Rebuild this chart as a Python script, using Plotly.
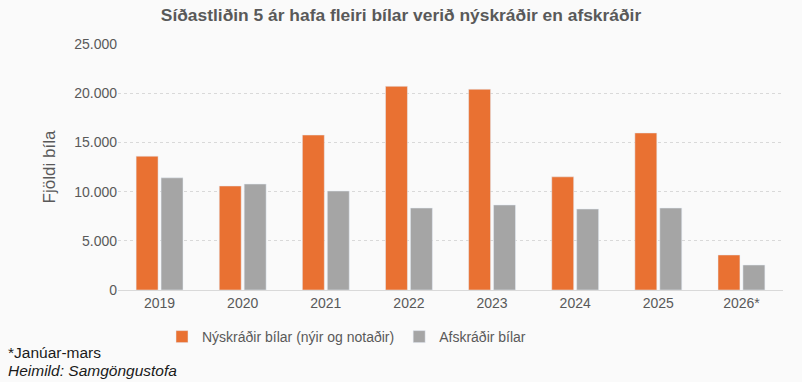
import plotly.graph_objects as go

years = ["2019", "2020", "2021", "2022", "2023", "2024", "2025", "2026*"]
nyskradir = [13600, 10570, 15750, 20700, 20400, 11500, 15960, 3560]
afskradir = [11400, 10770, 10060, 8330, 8640, 8230, 8330, 2540]
ytick_vals = [0, 5000, 10000, 15000, 20000, 25000]
ytick_text = ["0", "5.000", "10.000", "15.000", "20.000", "25.000"]

FONT = "Liberation Sans, Arial, sans-serif"
GRAY = "#595959"

fig = go.Figure()
fig.add_bar(x=years, y=nyskradir, name="Nýskráðir bílar (nýir og notaðir)",
            marker_color="#E97132")
fig.add_bar(x=years, y=afskradir, name="Afskráðir bílar",
            marker_color="#A5A5A5")

fig.update_layout(
    width=802, height=382,
    margin=dict(l=118, r=19, t=44, b=92),
    paper_bgcolor="#FAFAFA", plot_bgcolor="#FAFAFA",
    font=dict(family=FONT, color=GRAY, size=14),
    barmode="group", bargap=0.4, bargroupgap=0.12,
    title=dict(text="<b>Síðastliðin 5 ár hafa fleiri bílar verið nýskráðir en afskráðir</b>",
               x=0.5, xanchor="center", y=1 - 15/382, yanchor="middle",
               font=dict(size=17.4, color=GRAY, family=FONT)),
    showlegend=True,
    legend=dict(orientation="h", x=(162-118)/665, xanchor="left", y=-31/246, yanchor="top",
                font=dict(size=14, color=GRAY), itemwidth=30, traceorder="normal",
                bgcolor="rgba(0,0,0,0)"),
    xaxis=dict(showgrid=False, showline=True, linecolor="#D9D9D9", linewidth=1,
               ticks="", tickfont=dict(size=14, color=GRAY)),
    yaxis=dict(range=[0, 25000], tickvals=ytick_vals, ticktext=ytick_text,
               showgrid=True, gridcolor="#D9D9D9", griddash="dot", gridwidth=1,
               zeroline=False, showline=False, ticks="", ticklen=0,
               tickfont=dict(size=14, color=GRAY),
               title=dict(text="Fjöldi bíla", font=dict(size=17, color=GRAY), standoff=14)),
)

fig.add_annotation(text="*Janúar-mars", xref="paper", yref="paper",
                   x=-112/665, y=-62/246, xanchor="left", yanchor="middle",
                   showarrow=False, font=dict(size=15.5, color="#1a1a1a", family=FONT))
fig.add_annotation(text="<i>Heimild: Samgöngustofa</i>", xref="paper", yref="paper",
                   x=-112/665, y=-80/246, xanchor="left", yanchor="middle",
                   showarrow=False, font=dict(size=15.5, color="#1a1a1a", family=FONT))

fig.write_html("out.html", config={"displayModeBar": False},
               post_script="document.body.style.margin='0';document.body.style.background='#FAFAFA';")
